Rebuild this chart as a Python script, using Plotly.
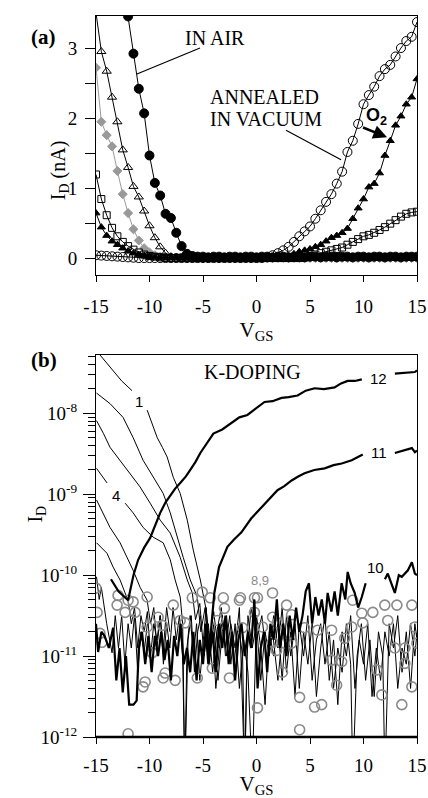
import plotly.graph_objects as go

SERIF = "Liberation Serif, Times New Roman, serif"
SANS = "Liberation Sans, Arial, sans-serif"

# ---------------- Panel (a) data: I_D (nA) vs V_GS ----------------
VGS_A = [-15, -14.5, -14, -13.5, -13, -12.5, -12, -11.5, -11, -10.5,
         -10, -9.5, -9, -8.5, -8, -7.5, -7, -6.5, -6, -5.5,
         -5, -4.5, -4, -3.5, -3, -2.5, -2, -1.5, -1, -0.5,
         0, 0.5, 1, 1.5, 2, 2.5, 3, 3.5, 4, 4.5,
         5, 5.5, 6, 6.5, 7, 7.5, 8, 8.5, 9, 9.5,
         10, 10.5, 11, 11.5, 12, 12.5, 13, 13.5, 14, 14.5,
         15]

AIR_FILLED_CIRCLE = [None, None, None, None, None, 3.95, 3.45, 2.92, 2.42, 2.07,
                     1.47, 1.08, 0.90, 0.64, 0.58, 0.37, 0.18, 0.07, 0.04, 0.03,
                     0.03, 0.02, 0.03, 0.03, 0.02, 0.03, 0.03, 0.02, 0.03, 0.03,
                     0.02, 0.03, 0.03, 0.02, 0.03, 0.03, 0.02, 0.03, 0.03, 0.02,
                     0.03, 0.03, 0.02, 0.03, 0.03, 0.02, 0.03, 0.03, 0.02, 0.03,
                     0.03, 0.02, 0.03, 0.03, 0.02, 0.03, 0.03, 0.02, 0.03, 0.03,
                     0.03]

OPEN_TRIANGLE = [3.50, 2.95, 2.67, 2.30, 1.95, 1.55, 1.30, 1.03, 0.88, 0.68,
                 0.47, 0.30, 0.17, 0.08, 0.03, 0.015, 0.01, 0.01, 0.01, 0.005,
                 0.005, 0.005, 0.005, 0.005, 0.005, 0.005, 0.005, 0.005, 0.005, 0.005,
                 0.005, 0.005, 0.005, 0.005, 0.005, 0.005, 0.005, 0.005, 0.005, 0.005,
                 0.005, 0.005, 0.005, 0.005, 0.005, 0.005, 0.005, 0.005, 0.005, 0.005,
                 0.005, 0.005, 0.005, 0.005, 0.005, 0.005, 0.005, 0.005, 0.005, 0.005,
                 0.01]

GRAY_DIAMOND = [2.72, 1.95, 1.76, 1.60, 1.25, 0.92, 0.65, 0.42, 0.26, 0.15,
                0.09, 0.05, 0.03, 0.02, 0.01, 0.01, 0.01, 0.01, 0.01, 0.01,
                0.01, 0.01, 0.01, 0.01, 0.01, 0.01, 0.01, 0.01, 0.01, 0.01,
                0.01, 0.01, 0.01, 0.01, 0.01, 0.01, 0.01, 0.01, 0.01, 0.01,
                0.01, 0.01, 0.01, 0.01, 0.01, 0.01, 0.01, 0.01, 0.01, 0.01,
                0.01, 0.01, 0.01, 0.01, 0.01, 0.01, 0.01, 0.01, 0.01, 0.01,
                0.01]

OPEN_SQUARE = [1.20, 0.85, 0.62, 0.44, 0.32, 0.24, 0.18, 0.13, 0.09, 0.06,
               0.04, 0.03, 0.02, 0.01, 0.01, 0.01, 0.01, 0.01, 0.01, 0.01,
               0.01, 0.01, 0.01, 0.01, 0.01, 0.01, 0.01, 0.01, 0.01, 0.01,
               0.01, 0.01, 0.01, 0.01, 0.01, 0.01, 0.01, 0.01, 0.01, 0.02,
               0.04, 0.06, 0.08, 0.10, 0.12, 0.14, 0.16, 0.20, 0.24, 0.28,
               0.32, 0.34, 0.37, 0.41, 0.45, 0.50, 0.55, 0.60, 0.64, 0.66,
               0.67]

FILLED_TRIANGLE = [0.65, 0.45, 0.33, 0.25, 0.20, 0.15, 0.11, 0.08, 0.06, 0.045,
                   0.03, 0.02, 0.015, 0.01, 0.01, 0.01, 0.01, 0.01, 0.01, 0.01,
                   0.01, 0.01, 0.01, 0.01, 0.01, 0.01, 0.01, 0.01, 0.01, 0.01,
                   0.01, 0.01, 0.01, 0.01, 0.01, 0.02, 0.04, 0.07, 0.10, 0.12,
                   0.14, 0.17, 0.20, 0.25, 0.30, 0.33, 0.37, 0.43, 0.57, 0.72,
                   0.85, 1.02, 1.07, 1.22, 1.47, 1.68, 1.90, 2.03, 2.20, 2.30,
                   2.56]

VACUUM_OPEN_CIRCLE = [0.05, 0.045, 0.04, 0.035, 0.03, 0.025, 0.02, 0.015, 0.01, 0.01,
                      0.01, 0.01, 0.01, 0.01, 0.01, 0.01, 0.01, 0.01, 0.01, 0.01,
                      0.01, 0.01, 0.01, 0.01, 0.01, 0.01, 0.01, 0.01, 0.01, 0.01,
                      0.01, 0.01, 0.02, 0.05, 0.08, 0.12, 0.17, 0.24, 0.32, 0.39,
                      0.46, 0.57, 0.69, 0.81, 0.92, 1.07, 1.24, 1.52, 1.68, 1.92,
                      2.20, 2.33, 2.45, 2.60, 2.70, 2.76, 2.88, 3.00, 3.10, 3.16,
                      3.37]

A_X_TICKS = [-15, -10, -5, 0, 5, 10, 15]
A_X_TICKTEXT = ["-15", "-10", "-5", "0", "5", "10", "15"]
A_Y_TICKS = [0, 1, 2, 3]
A_Y_TICKTEXT = ["0", "1", "2", "3"]

# ---------------- Panel (b) data: (V_GS, log10 I_D) ----------------
K1 = [(-15.0, -7.22), (-13.7, -7.43), (-12.6, -7.6), (-11.63, -7.72), (None, None),
      (-10.22, -7.96), (-9.8, -8.12), (-9.28, -8.30), (-8.8, -8.42), (-8.35, -8.54),
      (-7.78, -8.79), (-7.13, -8.99), (-6.47, -9.32), (-5.91, -9.69), (-5.25, -10.06),
      (-4.7, -10.43), (-4.4, -10.8), (-4.0, -10.45), (-3.6, -10.9), (-3.2, -10.5),
      (-2.8, -11.0), (-2.4, -10.6), (-2.0, -10.9), (-1.6, -10.4), (-1.1, -12.5),
      (-0.8, -10.5), (-0.4, -10.9), (0.0, -10.6), (0.4, -11.3), (0.8, -10.7),
      (1.2, -11.0), (1.6, -10.5), (2.0, -10.9), (2.4, -10.4), (2.8, -11.2),
      (3.2, -10.7), (3.6, -11.5), (4.0, -10.6), (4.4, -11.0), (4.8, -10.5),
      (5.2, -11.3), (5.6, -10.8), (6.0, -10.6), (6.4, -11.1), (6.8, -10.7),
      (7.2, -11.4), (7.6, -10.9), (8.0, -11.2), (8.4, -10.6), (8.8, -11.1),
      (9.0, -12.5), (9.4, -11.0), (9.8, -10.6), (10.2, -11.3), (10.6, -10.8),
      (11.0, -11.5), (11.4, -10.7), (11.8, -11.0), (12.0, -12.5), (12.4, -10.6),
      (12.8, -10.9), (13.2, -10.5), (13.6, -11.2), (14.0, -10.7), (14.4, -11.4),
      (14.8, -10.6), (15.0, -10.8)]

K2 = [(-14.95, -7.75), (-13.69, -7.88), (-12.47, -8.05), (-11.53, -8.30), (-10.6, -8.58),
      (-9.66, -8.79), (-8.72, -8.99), (-8.06, -9.23), (-7.41, -9.53), (-6.85, -9.78),
      (-6.19, -10.06), (-5.53, -10.27), (-5.2, -10.7), (-4.8, -10.4), (-4.4, -11.0),
      (-4.0, -10.6), (-3.6, -11.3), (-3.2, -10.7), (-2.8, -10.5), (-2.4, -11.1),
      (-2.0, -10.6), (-1.6, -11.4), (-1.2, -10.8), (-0.8, -11.2), (-0.4, -12.5),
      (0.0, -10.5), (0.4, -10.9), (0.8, -11.6), (1.2, -10.7), (1.6, -11.0),
      (2.0, -10.6), (2.4, -11.3), (2.8, -10.5), (3.2, -11.0), (3.6, -10.6),
      (4.0, -11.4), (4.4, -10.7), (4.8, -11.1), (5.2, -10.6), (5.6, -11.5),
      (6.0, -10.9), (6.4, -10.5), (6.8, -11.3), (7.2, -10.8), (7.6, -11.6),
      (8.0, -10.7), (8.4, -11.0), (8.8, -10.5), (9.2, -11.4), (9.6, -10.8),
      (10.0, -11.1), (10.4, -10.6), (10.8, -11.5), (11.2, -10.9), (11.6, -11.3),
      (12.0, -10.7), (12.4, -11.0), (12.8, -10.6), (13.2, -11.4), (13.6, -10.9),
      (14.0, -11.1), (14.4, -10.6), (14.8, -11.0), (15.0, -10.7)]

K3 = [(-14.95, -8.09), (-14.3, -8.25), (-13.69, -8.42), (-12.75, -8.58), (-11.81, -8.74),
      (-10.88, -8.91), (-9.94, -9.11), (-9.0, -9.32), (-8.06, -9.48), (-7.13, -9.78),
      (-6.47, -10.06), (-6.0, -10.22), (-5.7, -10.55), (-5.3, -10.35), (-4.9, -11.0),
      (-4.5, -10.6), (-4.1, -11.2), (-3.7, -10.7), (-3.3, -10.4), (-2.9, -10.9),
      (-2.5, -10.5), (-2.1, -11.1), (-1.7, -10.6), (-1.3, -11.0), (-1.1, -12.5),
      (-0.9, -11.0), (-0.5, -10.4), (0.0, -10.8), (0.5, -10.5), (1.0, -11.1),
      (1.5, -10.7), (2.0, -11.3), (2.5, -10.6), (3.0, -10.9)]

K4 = [(-14.95, -8.68), (-14.34, -8.79), (-13.97, -8.86), (None, None), (-12.28, -9.11),
      (-11.53, -9.23), (-10.6, -9.41), (-9.66, -9.53), (-8.72, -9.60), (-8.06, -9.81),
      (-7.6, -10.06), (-7.13, -10.27), (-6.9, -10.6), (-6.7, -12.5), (-6.5, -10.9),
      (-6.2, -10.5), (-5.9, -11.0), (-5.6, -10.6), (-5.3, -11.3), (-5.0, -10.8),
      (-4.7, -10.4), (-4.4, -11.1), (-4.1, -10.7), (-3.8, -11.4), (-3.5, -10.9),
      (-3.2, -10.5), (-2.9, -11.0)]

K5 = [(-14.95, -9.07), (-14.34, -9.23), (-13.69, -9.41), (-12.75, -9.60), (-12.1, -9.78),
      (-11.53, -9.94), (-10.88, -10.15), (-10.22, -10.31), (-9.9, -10.6), (-9.6, -10.4),
      (-9.3, -10.9), (-9.0, -10.5), (-8.7, -11.1), (-8.4, -10.6), (-8.1, -10.9),
      (-7.8, -10.4), (-7.5, -10.8), (-7.2, -10.5), (-6.9, -11.0), (-6.7, -12.5),
      (-6.4, -10.8), (-6.1, -10.5), (-5.8, -11.2), (-5.5, -10.7), (-5.2, -10.5)]

K6 = [(-14.95, -9.60), (-14.6, -9.65), (-13.97, -9.73), (-13.4, -9.90), (-12.75, -10.06),
      (-12.28, -10.22), (-12.0, -10.31), (-11.7, -10.6), (-11.4, -10.4), (-11.1, -10.9),
      (-10.8, -10.5), (-10.5, -10.7), (-10.2, -10.45), (-9.9, -11.0), (-9.6, -10.6),
      (-9.3, -10.8), (-9.0, -10.5), (-8.7, -10.9), (-8.4, -10.4), (-8.1, -10.7)]

K7 = [(-14.95, -10.02), (-14.7, -10.3), (-14.5, -10.15), (-14.0, -10.6), (-13.5, -10.96),
      (-13.2, -10.5), (-12.9, -10.9), (-12.6, -10.5), (-12.3, -11.1), (-12.0, -10.6),
      (-11.7, -10.9), (-11.4, -10.5), (-11.1, -11.2), (-10.8, -10.7), (-10.5, -10.95),
      (-10.2, -10.6)]

K10 = [(-15.0, -10.6), (-14.8, -10.95), (-14.5, -10.7), (-14.2, -10.75), (-13.8, -10.9),
       (-13.4, -10.65), (-13.1, -11.3), (-12.8, -10.9), (-12.5, -11.45), (-12.2, -11.0),
       (-11.9, -11.6), (-11.5, -11.6), (-11.2, -11.55), (-11.0, -10.9), (-10.7, -10.7),
       (-10.4, -11.1), (-10.1, -10.75), (-9.8, -11.2), (-9.5, -10.75), (-9.2, -11.0),
       (-8.9, -10.7), (-8.6, -11.05), (-8.3, -10.8), (-8.0, -11.3), (-7.7, -10.75),
       (-7.4, -11.0), (-7.1, -10.6), (-6.8, -11.1), (-6.5, -10.9), (-6.2, -11.2),
       (-5.9, -10.7), (-5.6, -11.3), (-5.3, -10.8), (-5.0, -11.1), (-4.7, -10.6),
       (-4.4, -11.0), (-4.1, -10.7), (-3.8, -11.2), (-3.5, -10.6), (-3.2, -10.9),
       (-2.9, -10.5), (-2.6, -11.1), (-2.3, -10.7), (-2.0, -11.3), (-1.7, -10.8),
       (-1.4, -10.6), (-1.1, -11.0), (-0.8, -10.7), (-0.5, -10.9), (-0.2, -10.3),
       (0.1, -11.4), (0.4, -10.9), (0.7, -10.7), (1.0, -11.2), (1.3, -10.6),
       (1.6, -10.8), (1.9, -10.3), (2.2, -10.9), (2.5, -10.6), (2.8, -11.0),
       (3.1, -10.5), (3.4, -10.8), (3.7, -10.4), (4.0, -10.7), (4.3, -10.5),
       (4.6, -10.2), (4.9, -10.1), (5.2, -10.6), (5.5, -10.27), (5.8, -10.5),
       (6.1, -10.3), (6.4, -10.6), (6.65, -10.22), (7.0, -10.45), (7.3, -10.2),
       (7.6, -10.5), (7.96, -10.1), (8.3, -10.3), (8.52, -9.96), (8.8, -10.1),
       (9.18, -10.22), (9.5, -10.4), (9.84, -10.27), (10.2, -10.1), (None, None),
       (12.0, -10.05), (12.27, -9.98), (12.6, -10.1), (12.93, -10.22), (13.3, -10.0),
       (13.58, -10.02), (14.15, -9.94), (14.52, -9.84), (14.8, -9.98), (15.0, -10.0)]

K11 = [(-4.8, -10.6), (-4.5, -11.1), (-4.2, -10.6), (-3.94, -10.22), (-3.5, -9.9),
       (-2.72, -9.65), (-2.1, -9.56), (-1.41, -9.47), (-0.5, -9.3), (0.46, -9.16),
       (1.2, -9.05), (1.96, -8.95), (2.6, -8.9), (3.28, -8.83), (3.9, -8.78),
       (4.49, -8.74), (5.4, -8.70), (6.37, -8.68), (7.2, -8.64), (7.96, -8.62),
       (8.9, -8.58), (9.4, -8.55), (9.93, -8.51), (None, None), (12.93, -8.49),
       (13.7, -8.46), (14.52, -8.43), (14.8, -8.48), (15.0, -8.46)]

K12 = [(-13.6, -10.05), (-12.9, -10.2), (-12.0, -10.31), (-11.5, -10.0), (-11.06, -9.81),
       (-10.5, -9.66), (-9.94, -9.54), (-9.5, -9.4), (-9.0, -9.23), (-8.5, -9.1),
       (-8.06, -9.01), (-7.6, -8.93), (-7.13, -8.86), (-6.6, -8.78), (-6.19, -8.70),
       (-5.7, -8.6), (-5.25, -8.49), (-4.6, -8.37), (-4.03, -8.25), (-3.2, -8.2),
       (-2.35, -8.12), (-1.6, -8.05), (-0.85, -8.02), (0.0, -7.93), (0.75, -7.86),
       (1.5, -7.85), (2.34, -7.81), (3.0, -7.80), (3.84, -7.78), (4.6, -7.72),
       (5.43, -7.69), (6.3, -7.70), (7.3, -7.68), (7.9, -7.63), (8.52, -7.60),
       (9.2, -7.6), (9.84, -7.58), (None, None), (12.93, -7.51), (14.0, -7.50),
       (14.8, -7.49), (15.0, -7.47)]

C89 = [(-15.0, -10.16), (-14.9, -10.46), (-14.63, -10.72), (-14.44, -10.83), (-13.03, -10.37),
       (-12.94, -10.25), (-12.28, -10.46), (-12.0, -10.31), (-11.53, -10.33), (-11.34, -10.46),
       (-10.22, -10.27), (-10.22, -10.64), (-9.19, -10.52), (-8.81, -10.62), (-9.75, -10.96),
       (-10.41, -11.32), (-10.6, -11.38), (-8.72, -11.27), (-8.53, -11.21), (-7.78, -10.37),
       (-7.6, -11.3), (-7.13, -10.56), (-6.66, -10.59), (-6.0, -10.28), (-5.53, -11.27),
       (-5.07, -10.21), (-4.32, -10.28), (-4.13, -11.15), (-3.66, -10.56), (-3.1, -10.28),
       (-3.0, -10.41), (-2.53, -11.27), (-1.6, -10.31), (-1.32, -10.65), (-0.19, -10.28),
       (-0.19, -10.46), (0.09, -11.64), (0.56, -10.64), (1.5, -10.22), (1.5, -10.52),
       (1.5, -10.83), (1.87, -10.93), (1.96, -10.59), (2.43, -11.2), (2.62, -10.84),
       (2.81, -10.37), (3.28, -10.49), (3.28, -10.84), (4.03, -11.51), (4.03, -11.91),
       (4.49, -10.65), (5.43, -11.63), (5.71, -10.68), (6.09, -11.6), (7.02, -10.68),
       (7.02, -11.05), (7.49, -11.36), (7.96, -11.07), (8.24, -10.78), (8.9, -10.64),
       (8.99, -10.31), (9.84, -10.47), (9.93, -10.59), (10.87, -10.46), (11.24, -11.17),
       (11.71, -11.48), (11.99, -10.37), (12.27, -10.56), (12.93, -10.9), (13.12, -10.37),
       (13.58, -11.6), (13.87, -10.9), (13.87, -11.09), (14.52, -10.37), (14.52, -11.38),
       (14.8, -10.64), (14.99, -10.84), (-12.0, -11.96), (-1.5, -10.28), (0.09, -10.28)]

B_Y_TICKS = [1e-12, 1e-11, 1e-10, 1e-9, 1e-8]
B_Y_TICKTEXT = ["10<sup>-12</sup>", "10<sup>-11</sup>", "10<sup>-10</sup>",
                "10<sup>-9</sup>", "10<sup>-8</sup>"]


def unzip(pairs):
    xs = [p[0] for p in pairs]
    ys = [None if p[1] is None else 10 ** p[1] for p in pairs]
    return xs, ys


fig = go.Figure()


def add_a(y, symbol, size, color="black", lcolor="black", mline=1.0):
    fig.add_trace(go.Scatter(
        x=VGS_A, y=y, mode="lines+markers", xaxis="x", yaxis="y",
        line=dict(color=lcolor, width=1),
        marker=dict(symbol=symbol, size=size, color=color,
                    line=dict(color=color, width=mline)),
        cliponaxis=True, connectgaps=False, hoverinfo="skip"))


add_a(GRAY_DIAMOND, "diamond", 7, color="#999999", lcolor="#9a9a9a")
add_a(OPEN_SQUARE, "square-open", 7)
add_a(OPEN_TRIANGLE, "triangle-up-open", 8)
add_a(VACUUM_OPEN_CIRCLE, "circle-open", 9)
add_a(FILLED_TRIANGLE, "triangle-up", 7)
add_a(AIR_FILLED_CIRCLE, "circle", 9)


def add_b(pairs, width, color="black"):
    xs, ys = unzip(pairs)
    fig.add_trace(go.Scatter(
        x=xs, y=ys, mode="lines", xaxis="x2", yaxis="y2",
        line=dict(color=color, width=width), connectgaps=False,
        hoverinfo="skip"))


for k in (K7, K6, K5, K4, K3, K2, K1):
    add_b(k, 1.0)
cx, cy = unzip(C89)
fig.add_trace(go.Scatter(
    x=cx, y=cy, mode="markers", xaxis="x2", yaxis="y2",
    marker=dict(symbol="circle-open", size=10, color="#8a8a8a",
                line=dict(color="#8a8a8a", width=1.6)),
    hoverinfo="skip"))
for k in (K10, K11, K12):
    add_b(k, 2.2)

tickfont = dict(family=SERIF, size=19, color="black")
common_axis = dict(showline=True, mirror=True, linecolor="black", linewidth=1,
                   ticks="outside", tickcolor="black", showgrid=False,
                   zeroline=False, tickfont=tickfont, automargin=False)

minor_vals = [m * 10 ** e for e in range(-12, -7) for m in range(2, 10)]

fig.update_layout(
    width=428, height=798,
    margin=dict(l=96, r=11, t=15, b=61, autoexpand=False),
    paper_bgcolor="white", plot_bgcolor="white",
    showlegend=False,
    xaxis=dict(domain=[0, 1], anchor="y", range=[-15, 15],
               tickmode="array", tickvals=A_X_TICKS, ticktext=A_X_TICKTEXT,
               ticklen=6, ticklabelstandoff=8,
               title=dict(text="V<sub>GS</sub>", font=dict(family=SERIF, size=21, color="black"),
                          standoff=6),
               **common_axis),
    yaxis=dict(domain=[0.640, 0.999], anchor="x", range=[-0.23, 3.46],
               tickmode="array", tickvals=A_Y_TICKS, ticktext=A_Y_TICKTEXT,
               ticklen=10, ticklabelstandoff=4,
               minor=dict(tickmode="array", tickvals=[0.5, 1.5, 2.5], ticks="outside",
                          ticklen=10, tickcolor="black", showgrid=False),
               **common_axis),
    xaxis2=dict(domain=[0, 1], anchor="y2", range=[-15, 15],
                tickmode="array", tickvals=A_X_TICKS, ticktext=A_X_TICKTEXT,
                ticklen=6, ticklabelstandoff=5,
                title=dict(text="V<sub>GS</sub>", font=dict(family=SERIF, size=21, color="black"),
                           standoff=2),
                **common_axis),
    yaxis2=dict(domain=[0, 0.529], anchor="x2", type="log", range=[-12, -7.28],
                tickmode="array", tickvals=B_Y_TICKS, ticktext=B_Y_TICKTEXT,
                ticklen=12, ticklabelstandoff=2,
                minor=dict(tickmode="array", tickvals=minor_vals, ticks="outside",
                           ticklen=7, tickcolor="black", showgrid=False),
                **common_axis),
)

ann_font = dict(family=SERIF, size=20, color="black")
sans_font = dict(family=SANS, size=15, color="black")
annotations = [
    dict(text="<b>(a)</b>", x=-0.209, y=0.989, xref="paper", yref="paper",
         showarrow=False, font=dict(family=SERIF, size=21, color="black")),
    dict(text="<b>(b)</b>", x=-0.209, y=0.522, xref="paper", yref="paper",
         showarrow=False, font=dict(family=SERIF, size=21, color="black")),
    dict(text="I<sub>D</sub> (nA)", x=-0.159, y=0.830, xref="paper", yref="paper",
         textangle=-90, showarrow=False, font=dict(family=SERIF, size=20, color="black")),
    dict(text="I<sub>D</sub>", x=-0.231, y=0.294, xref="paper", yref="paper",
         textangle=-90, showarrow=False, font=dict(family=SERIF, size=20, color="black")),
    dict(text="IN AIR", x=-3.88, y=3.14, xref="x", yref="y", showarrow=False, font=ann_font),
    dict(text="ANNEALED", x=0.79, y=2.30, xref="x", yref="y", showarrow=False, font=ann_font),
    dict(text="IN VACUUM", x=0.85, y=1.99, xref="x", yref="y", showarrow=False, font=ann_font),
    dict(text="<b>O<sub>2</sub></b>", x=11.26, y=2.03, xref="x", yref="y", showarrow=False,
         font=dict(family=SANS, size=18, color="black")),
    dict(text=" ", x=12.2, y=1.73, ax=9.77, ay=1.88, xref="x", yref="y", axref="x", ayref="y",
         showarrow=True, arrowhead=2, arrowsize=1.1, arrowwidth=2.5, arrowcolor="black",
         font=dict(size=2)),
    dict(text="K-DOPING", x=-0.38, y=-7.49, xref="x2", yref="y2", showarrow=False, font=ann_font),
    dict(text="12", x=11.43, y=-7.57, xref="x2", yref="y2", showarrow=False, font=sans_font),
    dict(text="11", x=11.43, y=-8.49, xref="x2", yref="y2", showarrow=False, font=sans_font),
    dict(text="10", x=11.15, y=-9.91, xref="x2", yref="y2", showarrow=False, font=sans_font),
    dict(text="8,9", x=0.28, y=-10.06, xref="x2", yref="y2", showarrow=False,
         font=dict(family=SANS, size=13, color="#8a8a8a")),
    dict(text="1", x=-10.97, y=-7.86, xref="x2", yref="y2", showarrow=False, font=sans_font),
    dict(text="4", x=-13.13, y=-9.01, xref="x2", yref="y2", showarrow=False, font=sans_font),
]
fig.update_layout(annotations=annotations)

shapes = [
    dict(type="line", xref="x", yref="y", x0=-5.28, y0=3.0, x1=-11.17, y1=2.63,
         line=dict(color="black", width=1.2)),
    dict(type="line", xref="x", yref="y", x0=2.76, y0=1.83, x1=7.9, y1=1.41,
         line=dict(color="black", width=1.2)),
    dict(type="line", xref="x2 domain", yref="y2 domain", x0=0, y0=0, x1=1, y1=0,
         line=dict(color="black", width=2.5)),
]
fig.update_layout(shapes=shapes)

fig.write_html("out.html",
               config={"displayModeBar": False},
               post_script="document.body.style.margin='0';document.body.style.padding='0';"
                           "document.body.style.overflow='hidden';")
